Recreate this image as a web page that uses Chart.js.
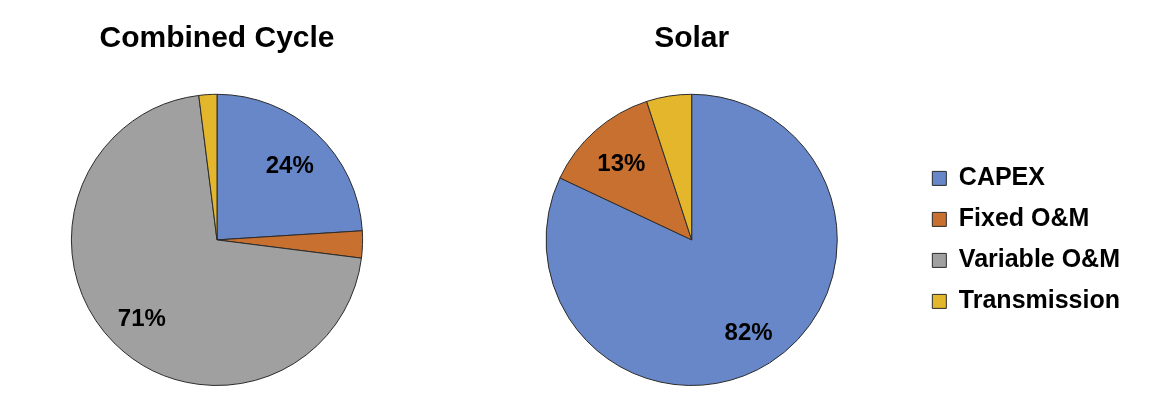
<!DOCTYPE html>
<html>
<head>
<meta charset="utf-8">
<title>Cost breakdown</title>
<script src="https://cdn.jsdelivr.net/npm/chart.js@4"></script>
<style>
  html, body { margin: 0; padding: 0; background: #fff; }
  #wrap { position: relative; width: 1159px; height: 411px; overflow: hidden; }
  .box { position: absolute; top: 0; height: 411px; }
  #box-cc { left: 0; width: 434px; }
  #box-solar { left: 440px; width: 719px; }
</style>
</head>
<body>
<div id="wrap">
  <div class="box" id="box-cc"><canvas id="chart-cc"></canvas></div>
  <div class="box" id="box-solar"><canvas id="chart-solar"></canvas></div>
</div>
<script>
// --- DATI ---
const categorie = ['CAPEX', 'Fixed O&M', 'Variable O&M', 'Transmission'];
const quoteCombinedCycle = [24, 3, 71, 2];
const quoteSolar = [82, 13, 0, 5];
const titoli = ['Combined Cycle', 'Solar'];

// colori fette (stile Excel)
const coloriFette = ['#6787c9', '#c8702f', '#a0a0a0', '#e4b62b'];

const FONT = "'Liberation Sans', Arial, sans-serif";

// --- PLUGIN ETICHETTE PERCENTUALI ---
// scrive la percentuale dentro le fette grandi
const etichettePct = {
  id: 'etichettePct',
  afterDatasetsDraw(chart) {
    const ctx = chart.ctx;
    const meta = chart.getDatasetMeta(0);
    const valori = chart.data.datasets[0].data;
    ctx.save();
    ctx.font = 'bold 24px ' + FONT;
    ctx.fillStyle = '#000';
    ctx.textAlign = 'center';
    ctx.textBaseline = 'middle';
    meta.data.forEach((arc, i) => {
      if (valori[i] < 10) return;
      const p = arc.getProps(['x', 'y', 'startAngle', 'endAngle', 'outerRadius'], true);
      const a = (p.startAngle + p.endAngle) / 2;
      const r = p.outerRadius * 0.73;
      ctx.fillText(valori[i] + '%', p.x + Math.cos(a) * r, p.y + Math.sin(a) * r + 4);
    });
    ctx.restore();
  }
};

function creaTorta(idCanvas, titolo, valori, conLegenda, padding) {
  const ctx = document.getElementById(idCanvas).getContext('2d');
  return new Chart(ctx, {
    type: 'pie',
    data: {
      labels: categorie,
      datasets: [{
        data: valori,
        backgroundColor: coloriFette,
        borderColor: '#2b2b2b',
        borderWidth: 1
      }]
    },
    options: {
      responsive: true,
      maintainAspectRatio: false,
      animation: false,
      layout: { padding: padding },
      plugins: {
        title: {
          display: true,
          text: titolo,
          color: '#000',
          fullSize: !conLegenda,
          font: { family: FONT, size: 30, weight: 'bold' },
          padding: { top: 21, bottom: 36.8 }
        },
        legend: {
          display: conLegenda,
          position: 'right',
          fullSize: false,
          labels: {
            color: '#000',
            boxWidth: 14,
            boxHeight: 14,
            padding: 16,
            font: { family: FONT, size: 25, weight: 'bold' }
          }
        },
        tooltip: { enabled: false }
      }
    },
    plugins: [etichettePct]
  });
}

// --- INIZIALIZZAZIONE ---
creaTorta('chart-cc', titoli[0], quoteCombinedCycle, false, { left: 0, right: 0, bottom: 25 });
creaTorta('chart-solar', titoli[1], quoteSolar, true, { left: 27, right: 29, bottom: 25 });
</script>
</body>
</html>
